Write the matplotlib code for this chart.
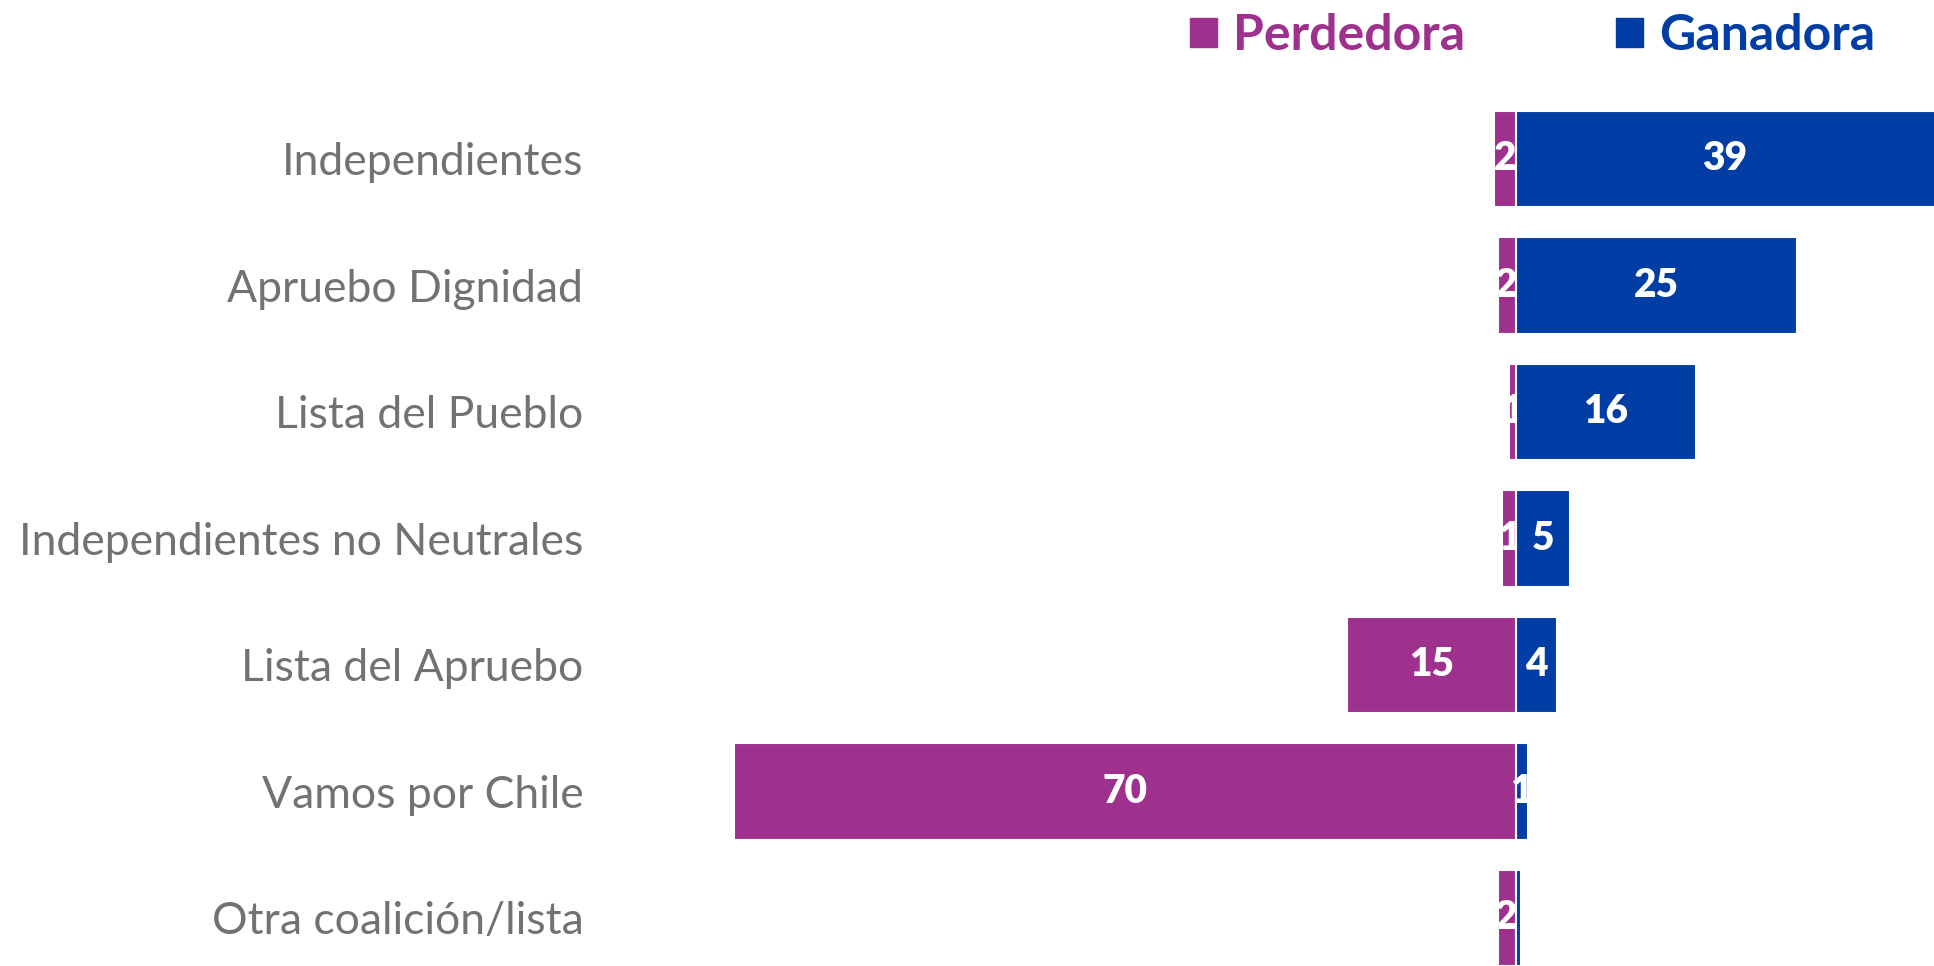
import numpy as np
import matplotlib.pyplot as plt
from matplotlib.patches import Rectangle

plt.rcParams['font.family'] = ['Lato', 'DejaVu Sans']

categorias = [
    "Independientes",
    "Apruebo Dignidad",
    "Lista del Pueblo",
    "Independientes no Neutrales",
    "Lista del Apruebo",
    "Vamos por Chile",
    "Otra coalición/lista",
]
perdedora = [1.9, 1.6, 0.6, 1.2, 15.0, 69.5, 1.6]
ganadora = [39.0, 25.0, 16.0, 4.8, 3.7, 1.1, 0.45]

c_perd = "#9E308E"
c_gan = "#003DA5"
c_gris = "#767171"

fig = plt.figure(figsize=(19.34, 9.66), dpi=100)
ax = fig.add_axes([600 / 1934, 0, 1 - 600 / 1934, 876 / 966])

y = np.arange(len(categorias))
b1 = ax.barh(y, -np.array(perdedora), height=0.76, color=c_perd,
             edgecolor="white", linewidth=1.5, zorder=1)
l1 = ax.bar_label(b1, labels=[f"{v:.0f}" if v >= 0.5 else "" for v in perdedora],
                  label_type="center", color="white", fontsize=28,
                  fontweight="heavy")
for t in l1:
    t.set_zorder(2)
b2 = ax.barh(y, ganadora, height=0.76, color=c_gan,
             edgecolor="white", linewidth=1.5, zorder=3)
l2 = ax.bar_label(b2, labels=[f"{v:.0f}" if v >= 0.5 else "" for v in ganadora],
                  label_type="center", color="white", fontsize=28,
                  fontweight="heavy")
for t in l2:
    t.set_zorder(4)

ax.set_xlim(-81.4, 37.2)
ax.set_ylim(6.38, -0.545)
ax.set_yticks(y)
ax.set_yticklabels(categorias, fontsize=32, color=c_gris)
ax.tick_params(axis="y", length=0, pad=12)
ax.set_xticks([])
for s in ax.spines.values():
    s.set_visible(False)

# leyenda
for x0, txt, col in [(1190, "Perdedora", c_perd), (1616, "Ganadora", c_gan)]:
    fig.add_artist(Rectangle((x0 / 1934, 1 - 47 / 966), 27 / 1934, 29 / 966,
                             transform=fig.transFigure, color=col))
    fig.text((x0 + 43) / 1934, 1 - 35 / 966, txt, color=col, fontsize=36,
             fontweight="bold", va="center", ha="left")

fig.savefig("out.png", dpi=100)
